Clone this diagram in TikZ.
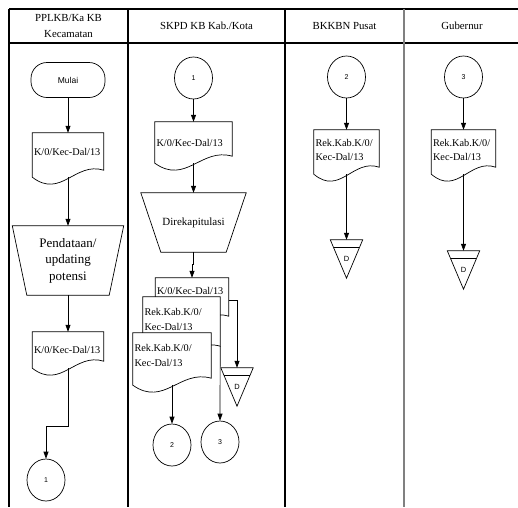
\documentclass[tikz,border=0pt]{standalone}
\usepackage{fontspec}
\setmainfont{Liberation Serif}
\setsansfont{Liberation Sans}
\usepackage{tikz}
\usetikzlibrary{shapes.geometric,arrows.meta,calc}

\definecolor{lanegray}{HTML}{808080}

\newcommand{\docout}[2]{%
  \draw[shp] ($(#1.south west)+(0,#2)$) -- (#1.north west) -- (#1.north east)
    -- ($(#1.south east)+(0,#2-7)$)
    .. controls ($(#1.south west)!0.6!(#1.south east)+(0,#2-16)$)
    and ($(#1.south west)!0.4!(#1.south east)+(0,#2+22)$) .. ($(#1.south west)+(0,#2)$) -- cycle;
  \coordinate (#1-r) at ($(#1.south east)+(0,#2-7)$);
  \coordinate (#1-b) at ($(#1.south)+(0,#2)$);}
\newcommand{\trapout}[2]{%
  \draw[shp] (#1.north west) -- (#1.north east) -- ($(#1.south east)+(-#2,0)$)
    -- ($(#1.south west)+(#2,0)$) -- cycle;}
\newcommand{\storeout}[1]{%
  \draw[shp] (#1.north west) -- (#1.north east) -- (#1.south) -- cycle;
  \draw[shp] ($(#1.north west)!0.2!(#1.south)$) -- ($(#1.north east)!0.2!(#1.south)$);}

\begin{document}
\begin{tikzpicture}[x=1pt, y=-1pt,
  lane/.style={line width=1.1pt},
  shp/.style={draw, line width=0.7pt},
  arr/.style={draw, line width=0.7pt, -{Triangle[length=7pt,width=5pt]}},
  hdr/.style={align=center, font=\fontsize{10.8}{16}\selectfont},
  term/.style={draw, line width=0.7pt, rounded corners=16pt, minimum width=74pt,
               minimum height=35pt, font=\sffamily\fontsize{8.5}{10}\selectfont},
  docu/.style={fill=white, inner xsep=1.5pt, inner ysep=0pt, align=left,
               font=\fontsize{10.3}{14.5}\selectfont},
  manop/.style={inner sep=0pt, align=center},
  conn/.style={ellipse, draw, line width=0.7pt, minimum width=38pt, minimum height=42pt,
               inner sep=0pt, font=\sffamily\fontsize{7}{8}\selectfont},
  store/.style={minimum width=32pt, minimum height=38pt, inner sep=0pt,
                font=\sffamily\fontsize{7.5}{9}\selectfont}
]
  \useasboundingbox (0,0) rectangle (518,507);

  \draw[lane] (9,9) -- (518,9);
  \draw[lane] (9,43) -- (518,43);
  \foreach \x in {9,128,285}
    \draw[lane] (\x,9) -- (\x,507);
  \draw[lane, draw=lanegray] (404,9) -- (404,507);

  \node[hdr] (h1) at (68.5,26) {PPLKB/Ka KB\\Kecamatan};
  \node[hdr] (h2) at (206.5,26) {SKPD KB Kab./Kota};
  \node[hdr] (h3) at (344.5,26) {BKKBN Pusat};
  \node[hdr] (h4) at (462,26) {Gubernur};

  \node[term] (mulai) at (68,80) {Mulai};
  \node[docu, text width=68pt, minimum height=38pt] (d1) at (68,152) {K/0/Kec-Dal/13};
  \docout{d1}{6}
  \node[manop, minimum width=111pt, minimum height=69pt,
        font=\fontsize{13}{16.5}\selectfont] (t1) at (68,260.5) {Pendataan/\\updating\\potensi};
  \trapout{t1}{14.5}
  \node[docu, text width=68pt, minimum height=36pt] (d2) at (68,350) {K/0/Kec-Dal/13};
  \docout{d2}{0}
  \node[conn] (c1a) at (46,480) {1};

  \node[conn] (c1b) at (193.5,78) {1};
  \node[docu, text width=74pt, minimum height=41pt] (d3) at (193.5,142.5) {K/0/Kec-Dal/13};
  \docout{d3}{0}
  \node[manop, minimum width=105pt, minimum height=59pt,
        font=\fontsize{11}{13}\selectfont] (t2) at (193.5,222.5) {Direkapitulasi};
  \trapout{t2}{20}
  \node[docu, text width=70pt, minimum height=45pt, text depth=20pt] (dA) at (192,300.5) {K/0/Kec-Dal/13};
  \docout{dA}{0}
  \node[docu, text width=74pt, minimum height=45pt] (dB) at (181.5,319.5) {Rek.Kab.K/0/\\Kec-Dal/13};
  \docout{dB}{11}
  \node[docu, text width=75pt, minimum height=45pt] (dC) at (172,355.5) {Rek.Kab.K/0/\\Kec-Dal/13};
  \docout{dC}{7}
  \node[store] (s1) at (237,387) {D};
  \storeout{s1}
  \node[conn] (c2b) at (172,445) {2};
  \node[conn] (c3b) at (220,442) {3};

  \node[conn] (c2c) at (346.5,77) {2};
  \node[docu, text width=62pt, minimum height=40pt] (d4) at (346.5,150) {Rek.Kab.K/0/\\Kec-Dal/13};
  \docout{d4}{4}
  \node[store] (s2) at (346.5,259) {D};
  \storeout{s2}

  \node[conn] (c3c) at (463.5,77) {3};
  \node[docu, text width=61pt, minimum height=40pt] (d5) at (463.5,150) {Rek.Kab.K/0/\\Kec-Dal/13};
  \docout{d5}{4}
  \node[store] (s3) at (463.5,270) {D};
  \storeout{s3}

  \draw[arr] (mulai) -- (d1);
  \draw[arr] (d1-b) -- (t1);
  \draw[arr] (t1) -- (d2);
  \draw[arr] (d2-b) -- ++(0,58) -| (c1a.north);
  \draw[arr] (c1b) -- (d3);
  \draw[arr] (d3-b) -- (t2);
  \draw[arr] (t2.south) -- ++(0,12) -| (dA.north);
  \draw[arr] (dA.east) -| (s1.north);
  \draw[arr] (dC-b) -- (c2b.north);
  \draw[arr] (dB-r) -- (c3b.north);
  \draw[arr] (c2c) -- (d4);
  \draw[arr] (d4-b) -- (s2);
  \draw[arr] (c3c) -- (d5);
  \draw[arr] (d5-b) -- (s3);
\end{tikzpicture}
\end{document}
